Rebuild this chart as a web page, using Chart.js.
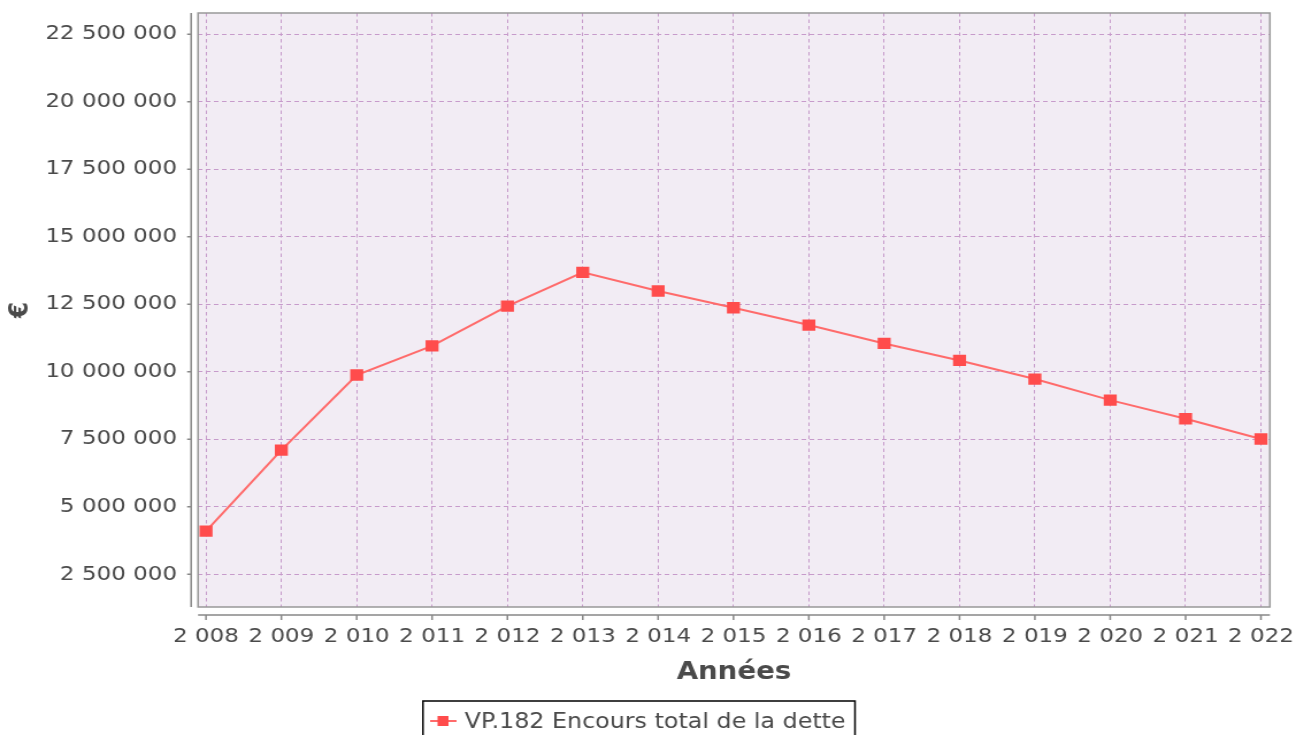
<!DOCTYPE html>
<html>
<head>
<meta charset="utf-8">
<script src="https://cdn.jsdelivr.net/npm/chart.js@4/dist/chart.umd.min.js"></script>
<style>
  html, body { margin: 0; padding: 0; background: #fff; overflow: hidden; }
</style>
</head>
<body>
<!-- drawn at 1127 wide then stretched to 1296, like the original picture -->
<canvas id="chart" width="1127" height="735" style="width:1296px;height:735px;display:block"></canvas>
<script>
const years = [2008, 2009, 2010, 2011, 2012, 2013, 2014, 2015, 2016, 2017, 2018, 2019, 2020, 2021, 2022];
const encours = [4100000, 7100000, 9880000, 10960000, 12430000, 13680000, 12990000, 12370000,
  11730000, 11050000, 10420000, 9730000, 8950000, 8260000, 7510000];
const yTicks = [2500000, 5000000, 7500000, 10000000, 12500000, 15000000, 17500000, 20000000, 22500000];
const seriesLabel = "VP.182 Encours total de la dette";
const xTitle = "Années";
const yTitle = "€";

const FONT = "'DejaVu Sans', 'Liberation Sans', sans-serif";
const TEXT = "#4a4a4a";

function fmt(v) {
  return String(Math.round(v)).replace(/\B(?=(\d{3})+(?!\d))/g, " ");
}

const jfreeFrame = {
  id: "jfreeFrame",
  beforeDraw(chart) {
    const { ctx, chartArea: a } = chart;
    ctx.save();
    ctx.fillStyle = "#F2ECF4";
    ctx.fillRect(a.left, a.top, a.right - a.left, a.bottom - a.top);
    ctx.restore();
  },
  beforeDatasetsDraw(chart) {
    const { ctx, chartArea: a } = chart;
    ctx.save();
    ctx.strokeStyle = "#999";
    ctx.lineWidth = 1.5;
    ctx.strokeRect(a.left, a.top, a.right - a.left, a.bottom - a.top);
    ctx.restore();
  },
  afterDraw(chart) {
    const { ctx, chartArea: a, scales } = chart;
    ctx.save();
    ctx.strokeStyle = "#888";
    ctx.lineWidth = 1.5;
    // y axis line, set off from the plot
    const ax = a.left - 6;
    ctx.beginPath();
    ctx.moveTo(ax, a.top);
    ctx.lineTo(ax, a.bottom);
    scales.y.ticks.forEach(t => {
      const py = scales.y.getPixelForValue(t.value);
      ctx.moveTo(ax - 3.5, py);
      ctx.lineTo(ax, py);
    });
    // x axis line
    const ay = a.bottom + 8;
    ctx.moveTo(a.left, ay);
    ctx.lineTo(a.right, ay);
    scales.x.ticks.forEach(t => {
      const px = scales.x.getPixelForValue(t.value);
      ctx.moveTo(px, ay);
      ctx.lineTo(px, ay + 5);
    });
    ctx.stroke();

    // legend box at the bottom
    const ds = chart.data.datasets[0];
    ctx.strokeStyle = "#000";
    ctx.lineWidth = 1.5;
    ctx.strokeRect(367.8, 701, 375.7, 45);
    ctx.strokeStyle = ds.borderColor;
    ctx.lineWidth = 2;
    ctx.beginPath();
    ctx.moveTo(374, 721);
    ctx.lineTo(397, 721);
    ctx.stroke();
    ctx.fillStyle = ds.pointBackgroundColor;
    ctx.fillRect(380.5, 716, 9.5, 10);
    ctx.fillStyle = TEXT;
    ctx.font = "20.7px " + FONT;
    ctx.textBaseline = "alphabetic";
    ctx.fillText(ds.label, 404, 728);
    ctx.restore();
  }
};

new Chart(document.getElementById("chart"), {
  type: "line",
  data: {
    datasets: [{
      label: seriesLabel,
      data: years.map((y, i) => ({ x: y, y: encours[i] })),
      borderColor: "#FF6B6B",
      borderWidth: 2,
      pointStyle: "rect",
      pointRadius: 8,
      pointBorderWidth: 0,
      pointBackgroundColor: "#FF4C4C",
      tension: 0
    }]
  },
  options: {
    responsive: false,
    animation: false,
    layout: { padding: { left: 0, top: 13, right: 22.7, bottom: 0 } },
    plugins: {
      legend: { display: false },
      tooltip: { enabled: false }
    },
    scales: {
      x: {
        type: "linear",
        min: 2007.894,
        max: 2022.119,
        afterBuildTicks: s => { s.ticks = years.map(v => ({ value: v })); },
        afterFit: s => { s.height = 128; s.paddingLeft = 0; s.paddingRight = 0; },
        ticks: {
          padding: 18,
          maxRotation: 0,
          autoSkip: false,
          color: TEXT,
          font: { family: FONT, size: 20 },
          callback: v => fmt(v)
        },
        grid: { color: "#C79BCB", lineWidth: 1, drawTicks: false },
        border: { display: false, dash: [3.5, 3] },
        title: {
          display: true,
          text: xTitle,
          color: TEXT,
          font: { family: FONT, size: 24, weight: "bold" },
          padding: { top: 0, bottom: 47.5 }
        }
      },
      y: {
        min: 1290000,
        max: 23285000,
        afterBuildTicks: s => { s.ticks = yTicks.map(v => ({ value: v })); },
        afterFit: s => { s.width = 172.2; s.paddingTop = 0; s.paddingBottom = 0; },
        ticks: {
          padding: 18.3,
          color: TEXT,
          font: { family: FONT, size: 20 },
          callback: v => fmt(v)
        },
        grid: { color: "#C79BCB", lineWidth: 1, drawTicks: false },
        border: { display: false, dash: [4, 3] },
        title: {
          display: true,
          text: yTitle,
          color: TEXT,
          font: { family: FONT, size: 23, weight: "bold" },
          padding: { top: 4, bottom: 0 }
        }
      }
    }
  },
  plugins: [jfreeFrame]
});
</script>
</body>
</html>
